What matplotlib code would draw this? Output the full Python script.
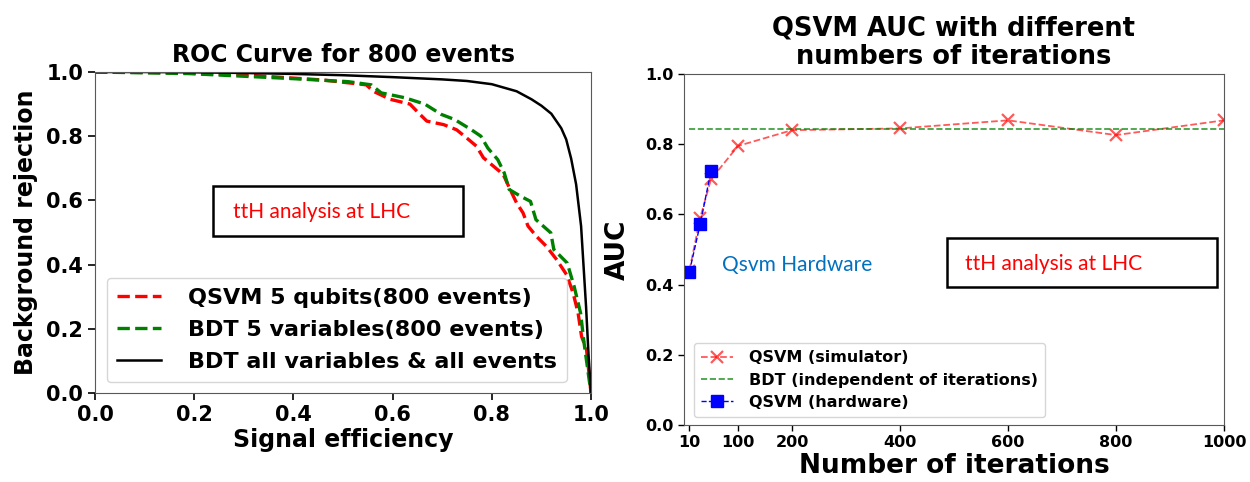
import matplotlib
matplotlib.use("Agg")
import matplotlib.pyplot as plt
from matplotlib.patches import Rectangle

# ROC curves (signal efficiency, background rejection)
qsvm_eff = [0.0, 0.15, 0.299, 0.46, 0.547, 0.561, 0.595, 0.635, 0.652, 0.669, 0.703, 0.729,
            0.749, 0.769, 0.783, 0.803, 0.823, 0.837, 0.850, 0.863, 0.873, 0.890, 0.910,
            0.931, 0.951, 0.964, 0.974, 0.981, 0.991, 1.0]
qsvm_rej = [1.0, 0.998, 0.991, 0.975, 0.96, 0.94, 0.915, 0.90, 0.873, 0.847, 0.836, 0.82,
            0.795, 0.769, 0.733, 0.707, 0.681, 0.634, 0.592, 0.561, 0.520, 0.488, 0.457,
            0.415, 0.368, 0.311, 0.249, 0.176, 0.135, 0.0]

bdt5_eff = [0.0, 0.19, 0.39, 0.51, 0.557, 0.577, 0.624, 0.665, 0.698, 0.725, 0.758, 0.778,
            0.792, 0.812, 0.825, 0.835, 0.858, 0.878, 0.889, 0.919, 0.925, 0.952, 0.966,
            0.979, 0.986, 1.0]
bdt5_rej = [1.0, 0.995, 0.98, 0.97, 0.96, 0.935, 0.92, 0.90, 0.868, 0.852, 0.821, 0.80,
            0.763, 0.727, 0.686, 0.634, 0.613, 0.597, 0.540, 0.499, 0.447, 0.405, 0.332,
            0.249, 0.156, 0.0]

bdt_all_eff = [0.0, 0.1, 0.2, 0.3, 0.4, 0.5, 0.6, 0.7, 0.75, 0.8, 0.85, 0.88, 0.9, 0.92,
               0.94, 0.95, 0.96, 0.97, 0.98, 0.99, 0.995, 1.0]
bdt_all_rej = [1.0, 1.0, 0.999, 0.997, 0.994, 0.99, 0.984, 0.977, 0.972, 0.962, 0.94, 0.915,
               0.895, 0.87, 0.825, 0.79, 0.73, 0.65, 0.52, 0.27, 0.12, 0.0]

# AUC vs number of iterations
sim_iters = [10, 30, 50, 100, 200, 400, 600, 800, 1000]
sim_auc = [0.44, 0.59, 0.70, 0.795, 0.84, 0.845, 0.868, 0.826, 0.868]
hw_iters = [10, 30, 50]
hw_auc = [0.437, 0.572, 0.724]
bdt_iters = [10, 1000]
bdt_auc = [0.843, 0.843]
iter_ticks = [10, 100, 200, 400, 600, 800, 1000]

W, H = 1250, 482
fig = plt.figure(figsize=(12.5, 4.82), dpi=100)


def box(x0, y0, x1, y1):
    # pixel box -> figure fraction
    return [x0 / W, 1 - y1 / H, (x1 - x0) / W, (y1 - y0) / H]


spine_col = "0.35"

# ---- left panel: ROC curve
ax1 = fig.add_axes(box(95, 72, 591, 393))
ax1.plot(qsvm_eff, qsvm_rej, color="red", ls="--", lw=2.4, label="QSVM 5 qubits(800 events)")
ax1.plot(bdt5_eff, bdt5_rej, color="green", ls="--", lw=2.4, label="BDT 5 variables(800 events)")
ax1.plot(bdt_all_eff, bdt_all_rej, color="black", lw=1.8, label="BDT all variables & all events")
ax1.set_xlim(0, 1)
ax1.set_ylim(0, 1)
ax1.set_xticks([0, 0.2, 0.4, 0.6, 0.8, 1.0])
ax1.set_yticks([0, 0.2, 0.4, 0.6, 0.8, 1.0])
ax1.tick_params(labelsize=15, width=1.2, length=5)
for lab in ax1.get_xticklabels() + ax1.get_yticklabels():
    lab.set_fontweight("bold")
ax1.set_title("ROC Curve for 800 events", fontsize=17, fontweight="bold", pad=7)
ax1.set_xlabel("Signal efficiency", fontsize=17, fontweight="bold", labelpad=2)
ax1.set_ylabel("Background rejection", fontsize=17, fontweight="bold", labelpad=6)
for s in ax1.spines.values():
    s.set_color(spine_col)
ax1.legend(loc="lower left", bbox_to_anchor=(0.024, 0.034), borderaxespad=0,
           prop={"weight": "bold", "size": 16}, handlelength=2.0,
           labelspacing=0.55, handletextpad=1.2, borderpad=0.45)

# ---- right panel: AUC vs iterations
ax2 = fig.add_axes(box(684, 74, 1224, 425))
ax2.plot(sim_iters, sim_auc, color="red", ls="--", marker="x", ms=9, mew=1.6, lw=1.3,
         alpha=0.65, label="QSVM (simulator)")
ax2.plot(bdt_iters, bdt_auc, color="green", ls="--", lw=1.2, alpha=0.8,
         label="BDT (independent of iterations)")
ax2.plot(hw_iters, hw_auc, color="blue", ls="--", marker="s", ms=9, lw=1.0,
         label="QSVM (hardware)")
ax2.set_xlim(0, 1000)
ax2.set_ylim(0, 1)
ax2.set_xticks(iter_ticks)
ax2.set_yticks([0, 0.2, 0.4, 0.6, 0.8, 1.0])
ax2.tick_params(labelsize=11.5, width=1.0, length=4)
for lab in ax2.get_xticklabels() + ax2.get_yticklabels():
    lab.set_fontweight("bold")
ax2.set_title("QSVM AUC with different\nnumbers of iterations", fontsize=18.5,
              fontweight="bold", pad=7, linespacing=1.15)
ax2.set_xlabel("Number of iterations", fontsize=19, fontweight="bold", labelpad=2)
ax2.set_ylabel("AUC", fontsize=19, fontweight="bold", labelpad=10)
for s in ax2.spines.values():
    s.set_color(spine_col)
ax2.legend(loc="lower left", bbox_to_anchor=(0.0185, 0.023), borderaxespad=0,
           prop={"weight": "bold", "size": 11.5}, handlelength=2.0,
           labelspacing=0.45, handletextpad=1.0, borderpad=0.45)

# ---- annotation boxes drawn over the figure
for x0, y0, x1, y1 in [(213, 186, 463, 236), (947, 238, 1217, 287)]:
    fig.add_artist(Rectangle((x0 / W, 1 - y1 / H), (x1 - x0) / W, (y1 - y0) / H,
                             transform=fig.transFigure, fill=False,
                             edgecolor="black", lw=1.8))
fig.text(233 / W, 1 - 212 / H, "ttH analysis at LHC", color="red", fontsize=15,
         family="Lato", va="center", ha="left")
fig.text(965 / W, 1 - 264 / H, "ttH analysis at LHC", color="red", fontsize=15,
         family="Lato", va="center", ha="left")
fig.text(722 / W, 1 - 265 / H, "Qsvm Hardware", color="#0070C0", fontsize=15,
         family="Lato", va="center", ha="left")

plt.savefig("out.png", dpi=100)
